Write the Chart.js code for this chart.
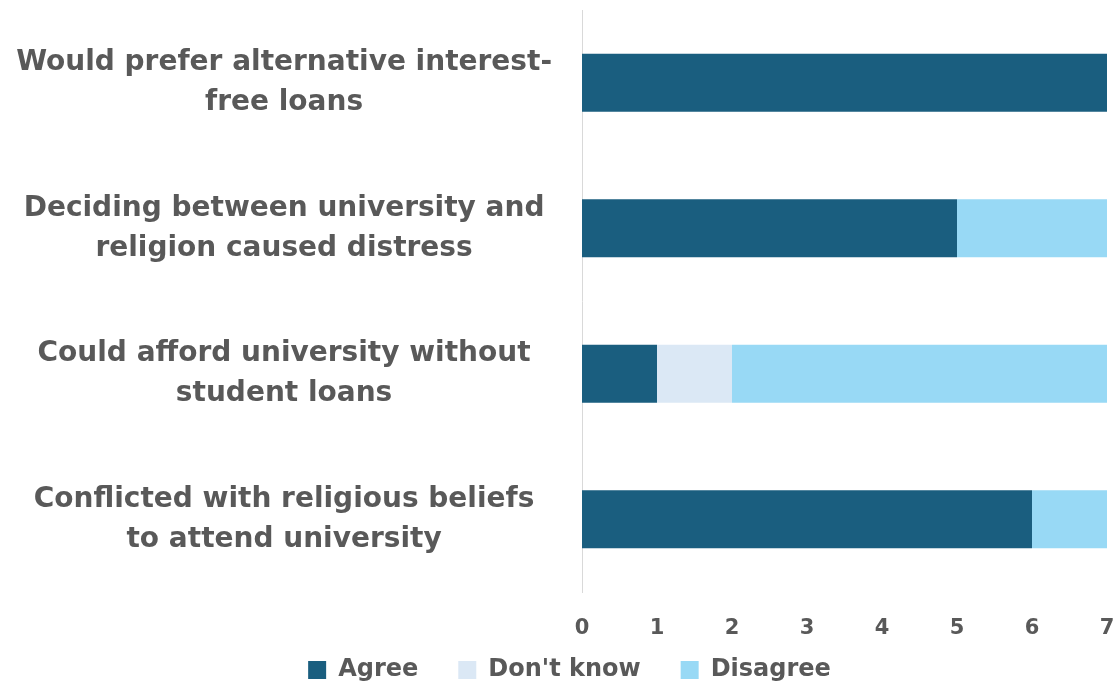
<!DOCTYPE html>
<html>
<head>
<meta charset="utf-8">
<script src="https://cdn.jsdelivr.net/npm/chart.js@4.4.1/dist/chart.umd.min.js"></script>
<style>
  html, body { margin: 0; padding: 0; background: #ffffff; }
  #wrap { width: 1117px; height: 688px; }
</style>
</head>
<body>
<div id="wrap"><canvas id="chart" width="1117" height="688"></canvas></div>
<script>
// Kategorije (svaka labela u dva reda)
const categories = [
    ['Would prefer alternative interest-', 'free loans'],
    ['Deciding between university and', 'religion caused distress'],
    ['Could afford university without', 'student loans'],
    ['Conflicted with religious beliefs', 'to attend university']
];

// Vrednosti serija
const agreeValues = [7, 5, 1, 6];
const dontKnowValues = [0, 0, 1, 0];
const disagreeValues = [0, 2, 5, 1];

const seriesNames = ['Agree', "Don't know", 'Disagree'];
const xTicks = [0, 1, 2, 3, 4, 5, 6, 7];

const gray = '#595959';
const fontFamily = '"DejaVu Sans", sans-serif';

// Legenda je niža od podrazumevane, a stavke se crtaju malo više i desnije
const legendHeightPlugin = {
    id: 'legendHeight',
    beforeInit(chart) {
        const legend = chart.legend;
        const origFit = legend.fit;
        const origDraw = legend.draw;
        legend.fit = function() {
            origFit.call(legend);
            this.height = 48;
        };
        legend.draw = function() {
            this.top -= 22;
            this.left += 16;
            this.right += 16;
            origDraw.call(legend);
            this.top += 22;
            this.left -= 16;
            this.right -= 16;
        };
    }
};

const ctx = document.getElementById('chart').getContext('2d');

new Chart(ctx, {
    type: 'bar',
    data: {
        labels: categories,
        datasets: [
            {
                label: seriesNames[0],
                data: agreeValues,
                backgroundColor: '#1a5e7f',
                categoryPercentage: 0.8,
                barPercentage: 0.5
            },
            {
                label: seriesNames[1],
                data: dontKnowValues,
                backgroundColor: '#dbe8f5',
                categoryPercentage: 0.8,
                barPercentage: 0.5
            },
            {
                label: seriesNames[2],
                data: disagreeValues,
                backgroundColor: '#98d9f5',
                categoryPercentage: 0.8,
                barPercentage: 0.5
            }
        ]
    },
    options: {
        indexAxis: 'y',
        responsive: false,
        animation: false,
        layout: { padding: { top: 10, right: 10, left: 0, bottom: 0 } },
        scales: {
            x: {
                stacked: true,
                min: xTicks[0],
                max: xTicks[xTicks.length - 1],
                afterBuildTicks: function(axis) {
                    axis.ticks = xTicks.map(v => ({ value: v }));
                },
                afterFit: function(axis) {
                    axis.paddingLeft = 0;
                    axis.paddingRight = 0;
                    axis.height = 48;
                },
                grid: { display: false, drawTicks: false },
                border: { display: false },
                ticks: {
                    color: gray,
                    padding: 24,
                    font: { family: fontFamily, size: 21, weight: 'bold' }
                }
            },
            y: {
                stacked: true,
                grid: { display: false, drawTicks: false },
                border: { display: true, color: '#d9d9d9', width: 1 },
                afterFit: function(axis) {
                    axis.width = 582;
                    axis.paddingTop = 0;
                    axis.paddingBottom = 0;
                },
                ticks: {
                    color: gray,
                    padding: 30,
                    crossAlign: 'center',
                    font: { family: fontFamily, size: 28, weight: 'bold', lineHeight: 1.43 }
                }
            }
        },
        plugins: {
            legend: {
                position: 'bottom',
                labels: {
                    color: gray,
                    boxWidth: 18,
                    boxHeight: 18,
                    padding: 40,
                    font: { family: fontFamily, size: 24, weight: 'bold' }
                }
            },
            tooltip: { enabled: false }
        }
    },
    plugins: [legendHeightPlugin]
});
</script>
</body>
</html>
